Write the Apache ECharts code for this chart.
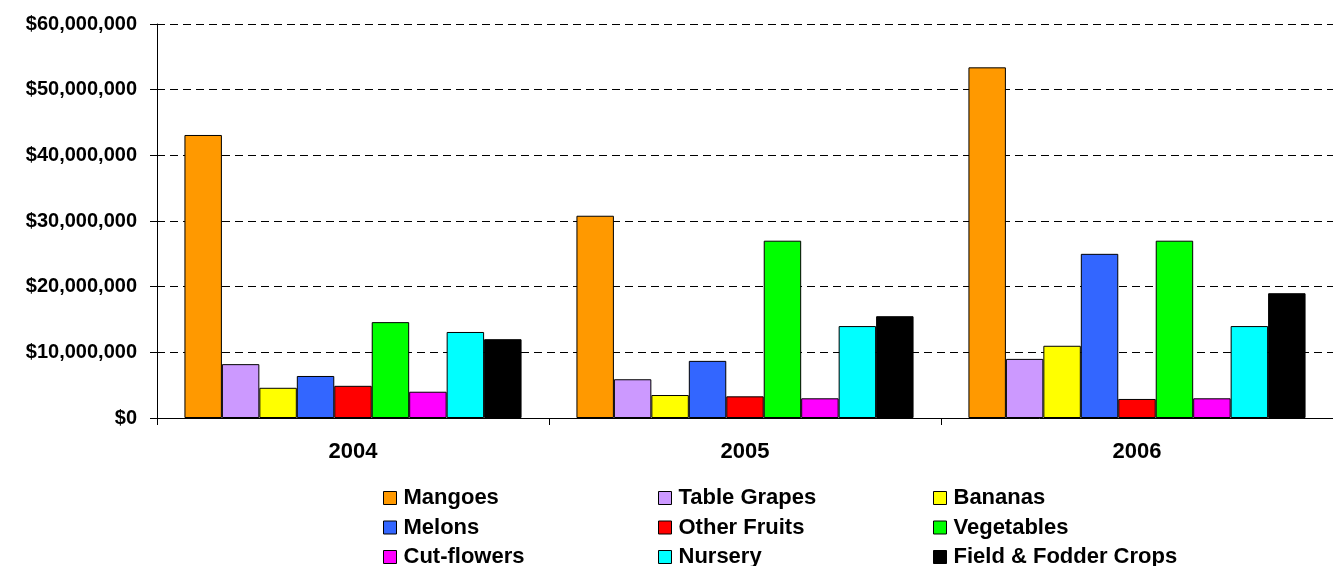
<!DOCTYPE html>
<html>
<head>
<meta charset="utf-8">
<script src="https://cdn.jsdelivr.net/npm/echarts@6/dist/echarts.min.js"></script>
<style>
  html, body { margin: 0; padding: 0; background: #fff; }
  #chart { width: 1333px; height: 566px; }
</style>
</head>
<body>
<div id="chart"></div>
<script>
// years on the x axis
var years = ['2004', '2005', '2006']

// export value per crop, in dollars
var mangoes = [43100000, 30800000, 53400000]
var tableGrapes = [8200000, 5900000, 9000000]
var bananas = [4600000, 3500000, 11000000]
var melons = [6400000, 8700000, 25000000]
var otherFruits = [4900000, 3300000, 2900000]
var vegetables = [14600000, 27000000, 27000000]
var cutFlowers = [4000000, 3000000, 3000000]
var nursery = [13100000, 14000000, 14000000]
var fieldFodder = [12000000, 15500000, 19000000]

var yTicks = [0, 10000000, 20000000, 30000000, 40000000, 50000000, 60000000]

var chart = echarts.init(document.getElementById('chart'))
var font = 'Liberation Sans, Arial, sans-serif'

function bar (name, data, color) {
  return {
    name: name,
    type: 'bar',
    data: data,
    barGap: 0,
    barCategoryGap: '14%',
    itemStyle: {
      color: color,
      borderColor: '#000',
      borderWidth: 1
    }
  }
}

// one legend per column, three rows each
function legendCol (left, names) {
  return {
    orient: 'vertical',
    left: left,
    top: 487,
    height: 90,
    padding: 0,
    data: names,
    itemWidth: 13,
    itemHeight: 13,
    itemGap: 7.5,
    icon: 'rect',
    itemStyle: { borderColor: '#000', borderWidth: 1 },
    textStyle: {
      fontFamily: font,
      fontWeight: 'bold',
      fontSize: 22,
      lineHeight: 21,
      color: '#000',
      padding: [0, 0, 0, 2]
    }
  }
}

chart.setOption({
  animation: false,
  backgroundColor: '#fff',
  grid: { left: 157, right: -9, top: 24, bottom: 148 },
  legend: [
    legendCol(383, ['Mangoes', 'Melons', 'Cut-flowers']),
    legendCol(658, ['Table Grapes', 'Other Fruits', 'Nursery']),
    legendCol(933, ['Bananas', 'Vegetables', 'Field & Fodder Crops'])
  ],
  xAxis: {
    type: 'category',
    data: years,
    axisLine: { lineStyle: { color: '#000', width: 1 } },
    axisTick: { show: true, length: 7, lineStyle: { color: '#000' } },
    axisLabel: {
      margin: 23,
      fontFamily: font,
      fontWeight: 'bold',
      fontSize: 22,
      color: '#000'
    }
  },
  yAxis: {
    type: 'value',
    min: yTicks[0],
    max: yTicks[yTicks.length - 1],
    interval: yTicks[1] - yTicks[0],
    axisLine: { show: true, lineStyle: { color: '#000', width: 1 } },
    axisTick: { show: true, length: 7, lineStyle: { color: '#000' } },
    splitLine: {
      show: true,
      lineStyle: { color: '#000', type: [8, 5], width: 1 }
    },
    axisLabel: {
      margin: 20,
      fontFamily: font,
      fontWeight: 'bold',
      fontSize: 20,
      color: '#000',
      formatter: function (v) {
        return '$' + v.toLocaleString('en-US')
      }
    }
  },
  series: [
    bar('Mangoes', mangoes, '#FF9900'),
    bar('Table Grapes', tableGrapes, '#CC99FF'),
    bar('Bananas', bananas, '#FFFF00'),
    bar('Melons', melons, '#3366FF'),
    bar('Other Fruits', otherFruits, '#FF0000'),
    bar('Vegetables', vegetables, '#00FF00'),
    bar('Cut-flowers', cutFlowers, '#FF00FF'),
    bar('Nursery', nursery, '#00FFFF'),
    bar('Field & Fodder Crops', fieldFodder, '#000000')
  ]
})
</script>
</body>
</html>
